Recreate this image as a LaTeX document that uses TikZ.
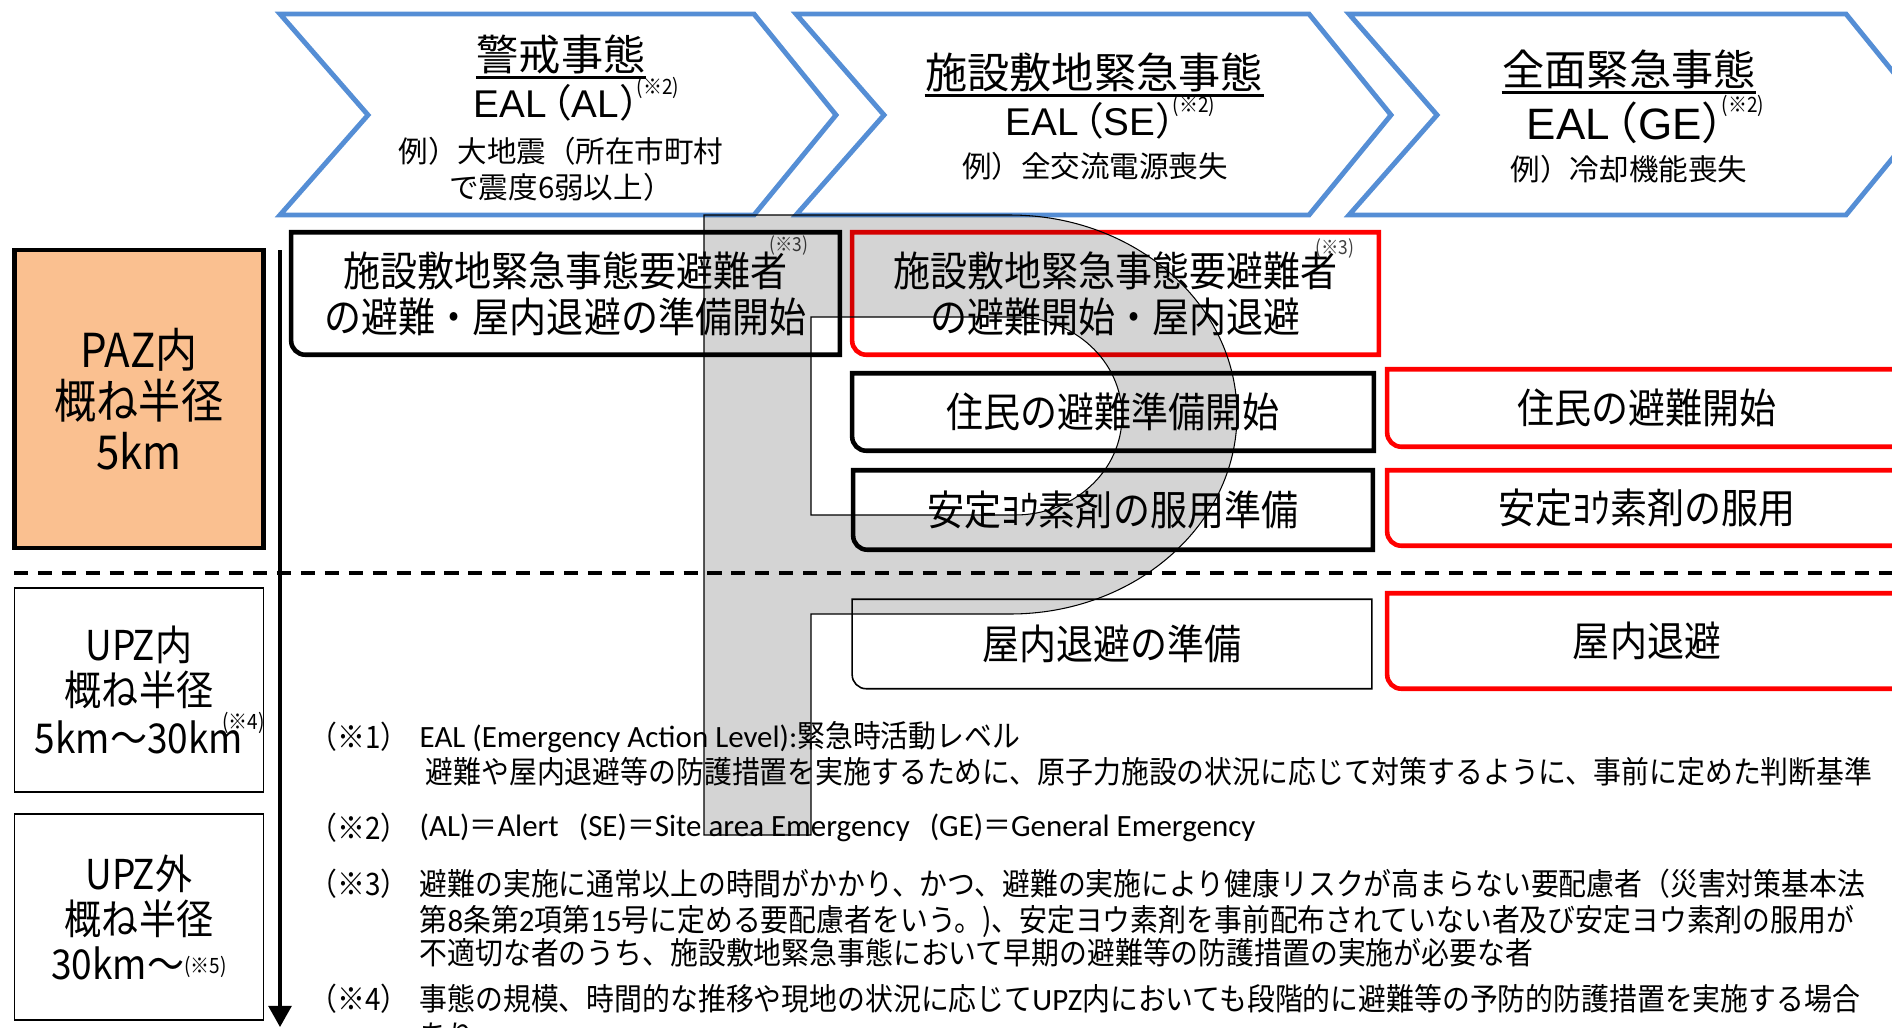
\documentclass[tikz,border=0pt]{standalone}
\usepackage{fontspec}
\setmainfont{Liberation Sans}
\newfontfamily\jp{Noto Sans CJK JP}
\newfontfamily\jpn{Noto Sans CJK JP}[FakeStretch=0.9]
\newfontfamily\carl{Carlito}
\usetikzlibrary{arrows.meta}
\definecolor{chevblue}{RGB}{85,142,213}
\definecolor{peach}{RGB}{250,192,144}
\newcommand\supnum[2]{\raisebox{#1}{\jpn\fontsize{6}{6}\selectfont #2}}
\newcommand\lt[1]{{\carl #1}}

\begin{document}
\begin{tikzpicture}[x=0.01cm,y=-0.01cm,
	chev/.style={draw=chevblue,line width=1.4pt},
	ttl/.style={font=\jp\fontsize{12}{14}\selectfont,inner sep=0},
	eal/.style={font=\fontsize{11}{13}\selectfont,inner sep=0,anchor=base west},
	exm/.style={font=\jp\fontsize{8.4}{10.2}\selectfont,align=center,inner sep=0},
	zone/.style={draw,line width=0.45pt,minimum width=2.485cm,font=\jpn\fontsize{11.7}{12.8}\selectfont,align=center},
	act/.style={font=\jpn\fontsize{11.7}{13.1}\selectfont,align=center,inner sep=0},
	sup_three/.style={font=\jpn\fontsize{5.5}{6}\selectfont,inner sep=0,text=black!75,anchor=north east},
	blk/.style={draw=black,line width=1.3pt},
	redb/.style={draw=red,line width=1.3pt},
	thn/.style={draw=black,line width=0.45pt},
	note/.style={font=\jpn\fontsize{8.8}{10}\selectfont,anchor=west,inner sep=0},
	pmark/.style={fill=black,fill opacity=0.17,draw=black,line width=0.3pt,even odd rule}]

	\useasboundingbox (0,0) rectangle (1892,1027);
	\clip (0,0) rectangle (1892,1027);

	% chevrons
	\foreach \l/\r in {280/754,796/1309,1349/1846}
		\draw[chev] (\l,14) -- (\r,14) -- (\r+82,115) -- (\r,215) -- (\l,215) -- (\l+88,115) -- cycle;

	\node[ttl] (t1) at (561,54) {警戒事態};
	\node[ttl] (t2) at (1094,72) {施設敷地緊急事態};
	\node[ttl] (t3) at (1629,69) {全面緊急事態};
	\foreach \t in {t1,t2,t3}
		\draw[line width=0.85pt] ([yshift=-1pt]\t.south west) -- ([yshift=-1pt]\t.south east);

	\node[eal] (e1) at (473,117) {EAL\kern-0.35em{\jp （}AL{\jp ）}\kern-0.55em\supnum{6.5pt}{(※2)}};
	\node[eal] (e2) at (1005,135) {EAL\kern-0.35em{\jp （}SE{\jp ）}\kern-0.55em\supnum{6.5pt}{(※2)}};
	\node[eal,font=\fontsize{12.5}{14}\selectfont] (e3) at (1526,139) {EAL\kern-0.35em{\jp （}GE{\jp ）}\kern-0.55em\supnum{7.5pt}{(※2)}};

	\node[exm] (x1) at (561,169) {例）大地震（所在市町村\\で震度6弱以上）};
	\node[exm] (x2) at (1095,166) {例）全交流電源喪失};
	\node[exm] (x3) at (1629,169) {例）冷却機能喪失};

	% zones
	\node[zone,fill=peach,line width=1.3pt,minimum height=2.98cm,font=\jpn\fontsize{13.3}{14.5}\selectfont] (paz) at (139,399) {PAZ内\\概ね半径\\5km};
	\node[zone,minimum height=2.04cm] (upzin) at (139,690) {UPZ内\\概ね半径\\5km～30km\rlap{\kern-0.5em\supnum{7pt}{(※4)}}};
	\node[zone,minimum height=2.06cm] (upzout) at (139,917) {UPZ外\\概ね半径\\30km～\supnum{1.5pt}{(※5)}};

	\coordinate (ax1) at (280,250);
	\coordinate (ax2) at (280,1027);
	\draw[line width=0.9pt,-{Triangle[length=6pt,width=6.5pt]}] (ax1) -- (ax2);

	\coordinate (dl) at (14,573);
	\coordinate (dr) at (1892,573);
	\draw[line width=1.1pt,dash pattern=on 4pt off 2.8pt] (dl) -- (dr);

	% actions
	\node[act,minimum width=5.47cm,minimum height=1.21cm] (a1) at (565.5,293.5) {施設敷地緊急事態要避難者\\の避難・屋内退避の準備開始};
	\node[act,minimum width=5.25cm,minimum height=1.21cm] (a2) at (1115.5,293.5) {施設敷地緊急事態要避難者\\の避難開始・屋内退避};
	\node[act,minimum width=5.2cm,minimum height=0.76cm] (a3) at (1113,412) {住民の避難準備開始};
	\node[act,minimum width=5.18cm,minimum height=0.76cm] (a4) at (1647,408) {住民の避難開始};
	\node[act,minimum width=5.18cm,minimum height=0.78cm] (a5) at (1113,510) {安定ﾖｳ素剤の服用準備};
	\node[act,minimum width=5.18cm,minimum height=0.74cm] (a6) at (1647,508) {安定ﾖｳ素剤の服用};
	\node[act,minimum width=5.18cm,minimum height=0.88cm] (a7) at (1112,644) {屋内退避の準備};
	\node[act,minimum width=5.18cm,minimum height=0.94cm] (a8) at (1647,641) {屋内退避};

	\foreach \n/\s in {a1/blk,a2/redb,a3/blk,a4/redb,a5/blk,a6/redb,a7/thn,a8/redb}
		\draw[\s] (\n.north) -- (\n.north east) -- (\n.south east) [rounded corners=4pt] -- (\n.south west) [sharp corners] -- (\n.north west) [rounded corners=4pt] -- cycle;

	\node[sup_three] (s1) at ([xshift=-0.31cm,yshift=-0.03cm]a1.north east) {(※3)};
	\node[sup_three] (s2) at ([xshift=-0.24cm,yshift=-0.06cm]a2.north east) {(※3)};

	% notes
	\node[note] (l1) at (309,737) {（※1）};
	\node[note] (n1) at (419,737) {\lt{EAL (Emergency Action Level):}緊急時活動レベル};
	\node[note] (n1b) at (425,772) {避難や屋内退避等の防護措置を実施するために、原子力施設の状況に応じて対策するように、事前に定めた判断基準};
	\node[note] (l2) at (309,828) {（※2）};
	\node[note] (n2) at (419,828) {\lt{(AL)}＝\lt{Alert\hspace{0.65em}(SE)}＝\lt{Site area Emergency\hspace{0.65em}(GE)}＝\lt{General Emergency}};
	\node[note] (l3) at (309,884) {（※3）};
	\node[note] (n3) at (419,884) {避難の実施に通常以上の時間がかかり、かつ、避難の実施により健康リスクが高まらない要配慮者（災害対策基本法};
	\node[note] (n3b) at (419,921) {第\lt{8}条第\lt{2}項第\lt{15}号に定める要配慮者をいう。)、安定ヨウ素剤を事前配布されていない者及び安定ヨウ素剤の服用が};
	\node[note] (n3c) at (419,953) {不適切な者のうち、施設敷地緊急事態において早期の避難等の防護措置の実施が必要な者};
	\node[note] (l4) at (309,999) {（※4）};
	\node[note] (n4) at (419,999) {事態の規模、時間的な推移や現地の状況に応じて\lt{UPZ}内においても段階的に避難等の予防的防護措置を実施する場合};
	\node[note] (n4b) at (419,1036) {あり};

	% watermark P
	\path[pmark] (704,215) -- (1010,215) arc[start angle=-90,end angle=90,x radius=227,y radius=199.5] -- (811,614) -- (811,835) -- (704,835) -- cycle
		(811,317) -- (1015,317) arc[start angle=-90,end angle=90,x radius=107,y radius=99] -- (811,515) -- cycle;
\end{tikzpicture}
\end{document}
